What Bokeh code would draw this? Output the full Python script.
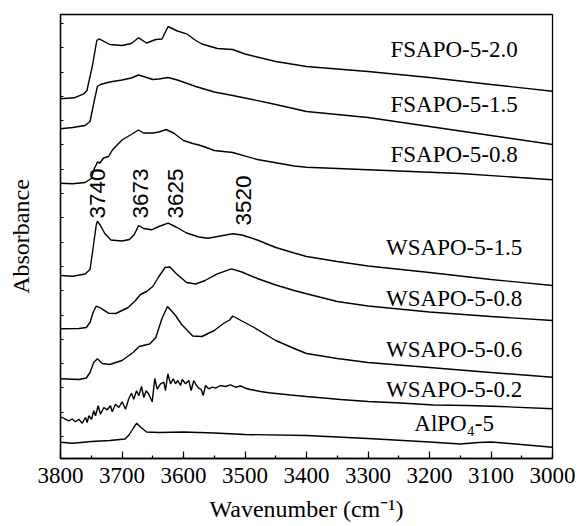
import numpy as np
from bokeh.plotting import figure
from bokeh.models import (Range1d, SingleIntervalTicker, FixedTicker, ColumnDataSource,
                          CustomJSTickFormatter)
from bokeh.core.properties import value
from bokeh.embed import file_html
from bokeh.resources import INLINE

# ---- FT-IR spectra in the hydroxyl region, offset vertically (absorbance, a.u.) ----
wn_fsapo_20 = [3800, 3778, 3762, 3757, 3748, 3741, 3737, 3720, 3700, 3685, 3673, 3660, 3645,
               3635, 3625, 3610, 3595, 3580, 3570, 3545, 3520, 3500, 3450, 3400, 3300, 3200, 3100, 3000]
ab_fsapo_20 = [3.597, 3.607, 3.647, 3.68, 3.93, 4.18, 4.197, 4.14, 4.13, 4.15, 4.207, 4.155, 4.19,
               4.195, 4.32, 4.275, 4.247, 4.18, 4.145, 4.10, 4.09, 4.045, 3.97, 3.92, 3.87, 3.81, 3.74, 3.673]

wn_fsapo_15 = [3800, 3780, 3760, 3752, 3745, 3740, 3735, 3720, 3700, 3685, 3673, 3665, 3650,
               3640, 3625, 3610, 3580, 3550, 3520, 3500, 3450, 3400, 3300, 3200, 3100, 3000]
ab_fsapo_15 = [3.297, 3.31, 3.33, 3.37, 3.58, 3.72, 3.74, 3.765, 3.785, 3.805, 3.835, 3.82, 3.79,
               3.795, 3.81, 3.785, 3.72, 3.665, 3.63, 3.605, 3.54, 3.47, 3.41, 3.32, 3.23, 3.14]

wn_fsapo_08 = [3800, 3780, 3760, 3750, 3745, 3742, 3740, 3736, 3730, 3722, 3715, 3700, 3685, 3673,
               3665, 3650, 3640, 3628, 3615, 3600, 3585, 3575, 3565, 3550, 3520, 3480, 3420, 3400,
               3300, 3150, 3000]
ab_fsapo_08 = [2.753, 2.747, 2.76, 2.80, 2.90, 2.935, 2.965, 2.955, 3.005, 3.02, 3.09, 3.185, 3.24, 3.285,
               3.255, 3.255, 3.265, 3.29, 3.25, 3.18, 3.15, 3.135, 3.115, 3.08, 3.06, 2.99, 2.925, 2.912,
               2.887, 2.85, 2.787]

wn_wsapo_15 = [3800, 3780, 3760, 3752, 3748, 3742, 3740, 3735, 3728, 3718, 3700, 3688, 3680, 3673,
               3665, 3652, 3640, 3625, 3612, 3595, 3575, 3560, 3540, 3520, 3505, 3480, 3450, 3420,
               3400, 3350, 3300, 3200, 3100, 3000]
ab_wsapo_15 = [1.83, 1.823, 1.845, 1.89, 2.06, 2.33, 2.373, 2.33, 2.25, 2.185, 2.175, 2.19, 2.24, 2.33,
               2.30, 2.287, 2.32, 2.353, 2.315, 2.255, 2.215, 2.203, 2.225, 2.247, 2.235, 2.185, 2.11,
               2.055, 2.02, 1.97, 1.925, 1.86, 1.79, 1.73]

wn_wsapo_08 = [3800, 3770, 3758, 3752, 3747, 3742, 3735, 3722, 3710, 3690, 3678, 3670, 3660, 3650,
               3640, 3630, 3622, 3612, 3595, 3580, 3565, 3545, 3522, 3505, 3480, 3450, 3420, 3400,
               3350, 3300, 3200, 3100, 3000]
ab_wsapo_08 = [1.297, 1.30, 1.31, 1.36, 1.46, 1.523, 1.507, 1.453, 1.45, 1.51, 1.58, 1.64, 1.67, 1.72,
               1.82, 1.91, 1.915, 1.85, 1.76, 1.745, 1.78, 1.847, 1.897, 1.865, 1.80, 1.735, 1.68,
               1.647, 1.57, 1.525, 1.465, 1.42, 1.38]

wn_wsapo_06 = [3800, 3770, 3758, 3752, 3746, 3740, 3732, 3720, 3700, 3682, 3672, 3655, 3645, 3635,
               3626, 3620, 3613, 3603, 3585, 3570, 3550, 3535, 3525, 3520, 3505, 3485, 3450, 3420,
               3400, 3350, 3300, 3200, 3100, 3000]
ab_wsapo_06 = [0.797, 0.79, 0.805, 0.86, 0.96, 0.997, 0.95, 0.94, 0.98, 1.06, 1.12, 1.145, 1.21, 1.40,
               1.52, 1.48, 1.43, 1.34, 1.225, 1.22, 1.28, 1.35, 1.385, 1.425, 1.375, 1.31, 1.18, 1.10,
               1.05, 1.00, 0.96, 0.91, 0.86, 0.813]

wn_wsapo_02 = [3800, 3797.2, 3791.9, 3786.5, 3781.0, 3775.6, 3770.2, 3764.7, 3759.3, 3756.6, 3754.0,
               3749.6, 3745.9, 3743.1, 3738.7, 3735.0, 3729.6, 3724.1, 3718.7, 3715.9, 3710.6, 3705.2,
               3699.7, 3694.3, 3688.9, 3684.5, 3680.8, 3676.4, 3672.7, 3668.3, 3664.6, 3660.7, 3656.4,
               3650.9, 3646.7, 3642.8, 3637.4, 3632.0, 3629.3, 3625.5, 3621.1, 3616.7, 3613.0, 3609.3,
               3604.9, 3602.1, 3596.7, 3591.4, 3587.5, 3583.3, 3578.9, 3575.1, 3571.2, 3568.0, 3564.2,
               3558.9, 3553.3, 3548.0, 3539.8, 3531.7, 3523.6, 3515.4, 3507.3, 3499.2, 3491.1, 3482.9,
               3474.8, 3461.3, 3426.0, 3400, 3344.7, 3300, 3247.2, 3193.5, 3138.7, 3084.6, 3000]
ab_wsapo_02 = [0.41, 0.41, 0.393, 0.377, 0.395, 0.367, 0.393, 0.353, 0.41, 0.36, 0.427,
               0.393, 0.477, 0.427, 0.527, 0.443, 0.51, 0.487, 0.527, 0.467, 0.543, 0.51,
               0.567, 0.493, 0.60, 0.653, 0.593, 0.677, 0.627, 0.72, 0.61, 0.677, 0.643,
               0.567, 0.80, 0.693, 0.747, 0.763, 0.68, 0.847, 0.747, 0.797, 0.747, 0.78,
               0.73, 0.79, 0.747, 0.78, 0.68, 0.78, 0.73, 0.703, 0.69, 0.63, 0.73,
               0.697, 0.713, 0.703, 0.73, 0.72, 0.737, 0.713, 0.725, 0.703, 0.69, 0.68,
               0.67, 0.657, 0.635, 0.62, 0.59, 0.57, 0.555, 0.535, 0.53, 0.52, 0.497]

wn_alpo = [3800, 3780, 3750, 3720, 3695, 3688, 3682, 3676, 3670, 3660, 3640, 3600, 3550, 3500,
           3400, 3300, 3200, 3150, 3120, 3100, 3070, 3000]
ab_alpo = [0.163, 0.153, 0.17, 0.18, 0.195, 0.24, 0.30, 0.353, 0.315, 0.265, 0.26, 0.265, 0.255, 0.24,
           0.23, 0.20, 0.165, 0.145, 0.16, 0.165, 0.15, 0.113]

spectra = [
    (wn_fsapo_20, ab_fsapo_20),
    (wn_fsapo_15, ab_fsapo_15),
    (wn_fsapo_08, ab_fsapo_08),
    (wn_wsapo_15, ab_wsapo_15),
    (wn_wsapo_08, ab_wsapo_08),
    (wn_wsapo_06, ab_wsapo_06),
    (wn_wsapo_02, ab_wsapo_02),
    (wn_alpo, ab_alpo),
]

# Sample names and where they sit beside each trace
sample_names = ["FSAPO-5-2.0", "FSAPO-5-1.5", "FSAPO-5-0.8", "WSAPO-5-1.5",
                "WSAPO-5-0.8", "WSAPO-5-0.6", "WSAPO-5-0.2", "AlPO\u2084-5"]
name_x = [3160] * 8
name_y = [4.09, 3.54, 3.037, 2.11, 1.603, 1.09, 0.687, 0.347]

# Assigned OH bands (cm-1)
peak_values = [3740, 3673, 3625, 3520]
peak_label_y = [2.40, 2.40, 2.40, 2.33]
peak_label_shift = [0, 2, 7, 11]

SERIF = "Liberation Serif"
SANS = "Liberation Sans"

p = figure(width=578, height=526,
           x_range=Range1d(3800, 3000), y_range=Range1d(0, 4.44),
           output_backend="svg", toolbar_location=None,
           min_border_left=60, min_border_right=26, min_border_top=14, min_border_bottom=68)

p.background_fill_color = "white"
p.border_fill_color = "white"
p.outline_line_color = "black"
p.outline_line_width = 1.3
p.xgrid.visible = False
p.ygrid.visible = False

for wn, ab in spectra:
    p.line(wn, ab, line_color="black", line_width=1.4)

names_src = ColumnDataSource(dict(x=name_x, y=name_y, text=sample_names))
p.text(x="x", y="y", text="text", source=names_src,
       text_font=value(SERIF), text_font_size="23px", text_color="black",
       text_align="center", text_baseline="middle")

peak_src = ColumnDataSource(dict(x=peak_values, y=peak_label_y,
                                 text=[str(v) for v in peak_values], dx=peak_label_shift))
p.text(x="x", y="y", text="text", x_offset="dx", source=peak_src, angle=np.pi / 2,
       text_font=value(SANS), text_font_size="22.5px", text_color="black",
       text_align="left", text_baseline="middle")

# x axis: wavenumber, decreasing to the right, ticks pointing inward
xa = p.xaxis[0]
xa.ticker = SingleIntervalTicker(interval=100, num_minor_ticks=2)
xa.axis_label = "Wavenumber (cm\u207b\u00b9)"
xa.axis_label_text_font = SERIF
xa.axis_label_text_font_size = "24px"
xa.axis_label_text_font_style = "normal"
xa.axis_label_text_color = "black"
xa.axis_label_standoff = 10
xa.major_label_text_font = SERIF
xa.major_label_text_font_size = "23px"
xa.major_label_text_color = "black"
xa.major_label_standoff = 9
xa.major_tick_in = 7
xa.major_tick_out = 0
xa.minor_tick_in = 3
xa.minor_tick_out = 0
xa.axis_line_width = 1.3
xa.major_tick_line_width = 1.2
xa.minor_tick_line_width = 1.2

# y axis: arbitrary absorbance, inward ticks only, no numbers
ya = p.yaxis[0]
ya.ticker = FixedTicker(ticks=list(np.arange(0.22, 4.44, 0.243)), minor_ticks=[])
ya.formatter = CustomJSTickFormatter(code="return ''")
ya.axis_label = "Absorbance"
ya.axis_label_text_font = SERIF
ya.axis_label_text_font_size = "24px"
ya.axis_label_text_font_style = "normal"
ya.axis_label_text_color = "black"
ya.axis_label_standoff = 27
ya.major_label_standoff = 0
ya.major_tick_in = 3
ya.major_tick_out = 0
ya.minor_tick_in = 0
ya.minor_tick_out = 0
ya.axis_line_width = 1.3
ya.major_tick_line_width = 1.2

open("out.html", "w").write(file_html(p, INLINE))
